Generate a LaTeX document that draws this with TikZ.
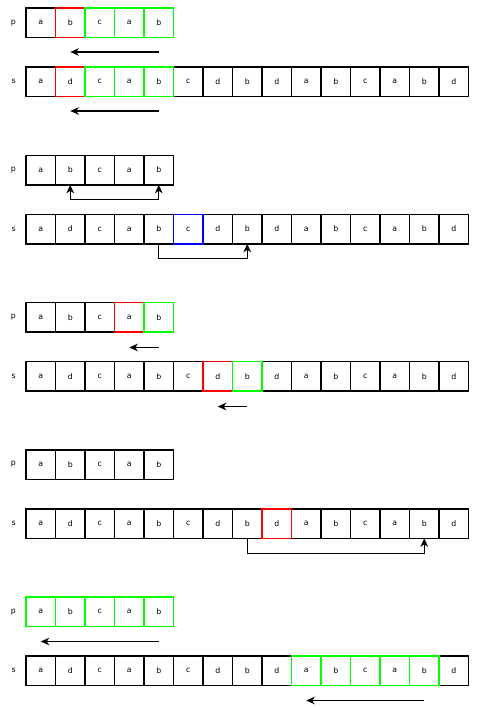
\documentclass[tikz,border=0pt]{standalone}
\usepackage{fontspec}
\setmainfont{DejaVu Sans}
\usetikzlibrary{positioning, arrows.meta}

\tikzset{
  cell/.style={draw=black, line width=1.5pt, outer sep=0pt, minimum width=29.5pt, minimum height=29.5pt, inner sep=0pt, font=\fontsize{7.8}{9}\selectfont},
  lbl/.style={inner sep=0pt, font=\fontsize{7.8}{9}\selectfont},
  hit/.style={draw=green, line width=1.5pt},
  miss/.style={draw=red, line width=1.5pt},
  probe/.style={draw=blue, line width=1.5pt},
  move/.style={-{Stealth[length=8.5pt, width=7.5pt, inset=2.5pt]}, line width=1.5pt},
  both/.style={{Stealth[length=8.5pt, width=7.5pt, inset=2.5pt]}-{Stealth[length=8.5pt, width=7.5pt, inset=2.5pt]}, line width=1.4pt},
}

\begin{document}
\begin{tikzpicture}[x=1pt, y=1pt]
  \useasboundingbox (0,0) rectangle (491,-707);

  % rows p and s, five times
  \foreach \b/\y in {1/0, 2/147.25, 3/294.5, 4/441.75, 5/589} {
    \foreach \c [count=\i] in {a,b,c,a,b}
      \node[cell] (p\b-\i) at ({26+(\i-0.5)*29.5}, {-22.75-\y}) {\c};
    \foreach \c [count=\i] in {a,d,c,a,b,c,d,b,d,a,b,c,a,b,d}
      \node[cell] (s\b-\i) at ({26+(\i-0.5)*29.5}, {-81.75-\y}) {\c};
    \node[lbl, left=10pt of p\b-1] (pl\b) {p};
    \node[lbl, left=10pt of s\b-1] (sl\b) {s};
  }

  % block 1
  \draw[miss] (p1-2.south west) rectangle (p1-2.north east);
  \foreach \i in {3,4,5} \draw[hit] (p1-\i.south west) rectangle (p1-\i.north east);
  \draw[miss] (s1-2.south west) rectangle (s1-2.north east);
  \foreach \i in {3,4,5} \draw[hit] (s1-\i.south west) rectangle (s1-\i.north east);
  \draw[move] ([yshift=-14.5pt]p1-5.south) -- ([yshift=-14.5pt]p1-2.south);
  \draw[move] ([yshift=-14.5pt]s1-5.south) -- ([yshift=-14.5pt]s1-2.south);

  % block 2
  \draw[probe] (s2-6.south west) rectangle (s2-6.north east);
  \draw[both] (p2-2.south) -- ++(0,-15) -| (p2-5.south);
  \draw[move, line width=1.4pt] (s2-5.south) -- ++(0,-15) -| (s2-8.south);

  % block 3
  \draw[miss] (p3-4.south west) rectangle (p3-4.north east);
  \draw[hit] (p3-5.south west) rectangle (p3-5.north east);
  \draw[miss] (s3-7.south west) rectangle (s3-7.north east);
  \draw[hit] (s3-8.south west) rectangle (s3-8.north east);
  \draw[move] ([yshift=-15.5pt]p3-5.south) -- ([yshift=-15.5pt]p3-4.south);
  \draw[move] ([yshift=-15.5pt]s3-8.south) -- ([yshift=-15.5pt]s3-7.south);

  % block 4
  \draw[miss] (s4-9.south west) rectangle (s4-9.north east);
  \draw[move, line width=1.4pt] (s4-8.south) -- ++(0,-15) -| (s4-14.south);

  % block 5
  \foreach \i in {1,...,5} \draw[hit] (p5-\i.south west) rectangle (p5-\i.north east);
  \foreach \i in {10,...,14} \draw[hit] (s5-\i.south west) rectangle (s5-\i.north east);
  \draw[move] ([yshift=-15pt]p5-5.south) -- ([yshift=-15pt]p5-1.south);
  \draw[move] ([yshift=-15pt]s5-14.south) -- ([yshift=-15pt]s5-10.south);
\end{tikzpicture}
\end{document}
